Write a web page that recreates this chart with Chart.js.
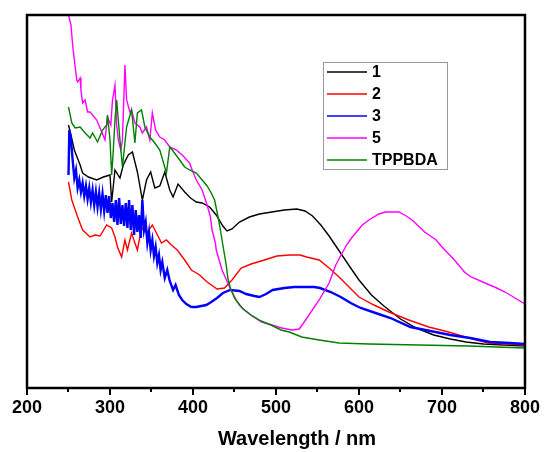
<!DOCTYPE html>
<html>
<head>
<meta charset="utf-8">
<script src="https://cdn.jsdelivr.net/npm/chart.js@4.4.1/dist/chart.umd.min.js"></script>
<style>
  html, body { margin: 0; padding: 0; background: #fff; }
  #wrap { position: relative; width: 549px; height: 452px; }
</style>
</head>
<body>
<div id="wrap"><canvas id="c" width="549" height="452"></canvas></div>
<script>
// ---- Data (wavelength in nm, absorbance in arbitrary units) ----
const xTickValues = [200, 300, 400, 500, 600, 700, 800];
const seriesNames = ['1', '2', '3', '5', 'TPPBDA'];

const wl1 = [250,253,257,264,267,274,284,292,300,302,306,312,316,322,327,333,339,344,349,354,360,366,372,376,382,390,397,404,411,420,428,436,441,447,456,468,480,495,510,525,535,544,554,564,577,590,600,615,630,650,669,690,710,729,750,775,800];
const abs1 = [2.62,2.52,2.37,2.22,2.14,2.10,2.07,2.10,2.12,1.85,2.17,2.09,2.22,2.32,2.35,2.15,1.87,2.07,2.15,1.99,2.01,2.15,1.97,1.90,2.03,1.95,1.89,1.85,1.84,1.80,1.72,1.61,1.56,1.58,1.65,1.70,1.73,1.75,1.77,1.78,1.76,1.71,1.62,1.51,1.35,1.19,1.07,0.92,0.81,0.68,0.59,0.52,0.48,0.45,0.43,0.42,0.41];

const wl2 = [250,254,261,267,276,282,288,296,302,306,309,314,318,321,326,330,333,338,344,351,356,362,368,374,381,390,398,408,417,429,438,447,458,470,486,501,517,529,537,552,564,576,588,600,618,636,660,684,708,732,756,780,800];
const abs2 = [2.05,1.87,1.70,1.57,1.50,1.52,1.51,1.62,1.59,1.50,1.40,1.30,1.47,1.37,1.54,1.44,1.37,1.59,1.54,1.62,1.54,1.44,1.47,1.42,1.37,1.27,1.17,1.12,1.05,0.98,0.99,1.07,1.19,1.23,1.27,1.31,1.32,1.32,1.30,1.27,1.19,1.10,1.00,0.90,0.82,0.75,0.67,0.60,0.55,0.49,0.44,0.43,0.42];

const wl3 = [250,251,253,255,257,259,261,263,265,267,269,271,273,275,277,279,281,283,285,287,289,291,293,295,297,299,301,303,305,307,309,311,313,315,317,319,321,323,325,327,329,331,333,335,337,339,341,343,345,347,349,351,353,355,357,359,361,363,366,369,372,376,379,383,387,392,398,404,410,416,422,429,436,445,456,464,474,480,488,496,510,522,536,546,553,566,578,590,602,620,638,662,686,710,734,758,782,800];
const abs3 = [2.12,2.57,2.47,2.27,2.09,2.17,1.99,2.07,1.95,2.04,1.91,2.01,1.88,1.99,1.85,1.97,1.82,1.95,1.80,1.94,1.78,1.93,1.76,1.92,1.74,1.91,1.69,1.84,1.65,1.87,1.62,1.89,1.63,1.82,1.61,1.84,1.59,1.87,1.57,1.82,1.52,1.77,1.55,1.72,1.49,1.87,1.57,1.65,1.44,1.55,1.37,1.47,1.31,1.40,1.24,1.32,1.17,1.25,1.09,1.17,1.06,0.97,1.02,0.92,0.87,0.83,0.80,0.80,0.81,0.82,0.85,0.89,0.94,0.97,0.96,0.93,0.91,0.90,0.93,0.97,0.99,1.00,1.00,1.00,0.99,0.95,0.90,0.84,0.79,0.74,0.69,0.60,0.56,0.52,0.49,0.45,0.44,0.43];

const wl5 = [250,253,255,258,260,261,264,265,267,270,273,276,284,290,294,297,301,303,306,308,310,313,315,318,320,324,326,330,336,339,344,348,351,355,360,366,372,380,387,396,399,404,411,417,421,423,427,428,435,444,452,459,471,483,495,507,519,528,534,543,552,564,572,585,591,604,612,624,632,648,657,664,679,693,700,715,727,735,752,766,776,788,800];
const abs5 = [3.72,3.62,3.42,3.20,3.07,3.05,3.09,2.97,2.84,2.87,2.75,2.75,2.67,2.55,2.47,2.70,2.62,2.87,3.02,2.62,2.47,2.37,2.47,3.22,2.87,2.75,2.77,2.64,2.60,2.54,2.60,2.47,2.74,2.57,2.50,2.47,2.40,2.37,2.32,2.24,2.17,2.07,1.97,1.82,1.70,1.57,1.44,1.37,1.17,1.00,0.87,0.79,0.71,0.65,0.62,0.59,0.57,0.58,0.65,0.76,0.87,1.04,1.22,1.42,1.49,1.62,1.67,1.73,1.75,1.75,1.71,1.67,1.55,1.47,1.40,1.27,1.15,1.10,1.04,0.99,0.95,0.89,0.83];

const wlT = [250,254,258,264,270,276,279,285,291,296,297,300,302,304,306,308,310,312,315,320,326,330,333,338,342,348,354,360,368,372,375,384,390,396,404,411,417,422,426,429,432,435,438,440,442,445,450,456,462,470,482,494,506,516,531,552,576,612,672,732,800];
const absT = [2.80,2.64,2.59,2.60,2.54,2.49,2.54,2.45,2.57,2.62,2.72,2.47,2.12,2.37,2.67,2.87,2.67,2.47,2.20,2.60,2.77,2.44,2.74,2.77,2.60,2.50,2.44,2.37,2.14,2.40,2.37,2.27,2.20,2.17,2.14,2.07,2.01,1.94,1.87,1.75,1.62,1.47,1.32,1.22,1.09,0.99,0.89,0.82,0.77,0.72,0.66,0.62,0.57,0.55,0.50,0.47,0.44,0.43,0.42,0.41,0.39];

const seriesX = [wl1, wl2, wl3, wl5, wlT];
const seriesY = [abs1, abs2, abs3, abs5, absT];
const colors = ['#000000', '#ff0000', '#0000ff', '#ff00ff', '#008000'];
const widths = [1.4, 1.4, 2.4, 1.4, 1.4];

const FONT = '"Liberation Sans", Arial, sans-serif';

const datasets = seriesNames.map((name, i) => ({
  label: name,
  data: seriesX[i].map((x, j) => ({ x: x, y: seriesY[i][j] })),
  borderColor: colors[i],
  backgroundColor: colors[i],
  borderWidth: widths[i],
  pointRadius: 0,
  tension: 0,
  fill: false,
  order: 5 - i
}));

const framePlugin = {
  id: 'frame',
  afterDatasetsDraw(chart) {
    const { ctx, chartArea: a, scales } = chart;
    const xs = scales.x;
    ctx.save();
    ctx.strokeStyle = '#000';
    ctx.lineWidth = 2;
    for (let v = 200; v <= 800; v += 50) {
      const px = Math.round(xs.getPixelForValue(v));
      const len = (v % 100 === 0) ? 7 : 4;
      ctx.beginPath();
      ctx.moveTo(px, a.bottom);
      ctx.lineTo(px, a.bottom + len);
      ctx.stroke();
    }
    ctx.lineWidth = 2.5;
    ctx.strokeRect(a.left, a.top, a.right - a.left, a.bottom - a.top);
    ctx.fillStyle = '#000';
    ctx.font = 'bold 20px ' + FONT;
    ctx.textAlign = 'center';
    ctx.textBaseline = 'alphabetic';
    ctx.fillText('Wavelength / nm', 297, 445);
    const lx = 323, ly = 62, lw = 124, lh = 107;
    ctx.lineWidth = 1;
    ctx.strokeStyle = '#999';
    ctx.fillStyle = '#fff';
    ctx.fillRect(lx + 0.5, ly + 0.5, lw, lh);
    ctx.strokeRect(lx + 0.5, ly + 0.5, lw, lh);
    ctx.font = 'bold 16px ' + FONT;
    ctx.textAlign = 'left';
    ctx.textBaseline = 'middle';
    seriesNames.forEach((name, i) => {
      const y = 72 + i * 22;
      ctx.strokeStyle = colors[i];
      ctx.lineWidth = 1.5;
      ctx.beginPath();
      ctx.moveTo(327, y);
      ctx.lineTo(367, y);
      ctx.stroke();
      ctx.fillStyle = '#000';
      ctx.fillText(name, 372, y + 1);
    });
    ctx.restore();
  }
};

new Chart(document.getElementById('c'), {
  type: 'line',
  data: { datasets: datasets },
  options: {
    responsive: false,
    animation: false,
    devicePixelRatio: 1,
    layout: { padding: { left: 27, right: 22, top: 15, bottom: 0 } },
    plugins: { legend: { display: false }, tooltip: { enabled: false } },
    scales: {
      x: {
        type: 'linear',
        min: 200,
        max: 800,
        afterFit(scale) { scale.height = 64; },
        afterBuildTicks(scale) { scale.ticks = xTickValues.map(v => ({ value: v })); },
        border: { display: false },
        grid: { display: false, drawTicks: false },
        ticks: {
          color: '#000',
          padding: 9,
          maxRotation: 0,
          font: { family: FONT, size: 18, weight: 'bold' }
        }
      },
      y: {
        display: false,
        min: -0.01,
        max: 3.72
      }
    }
  },
  plugins: [framePlugin]
});
</script>
</body>
</html>
